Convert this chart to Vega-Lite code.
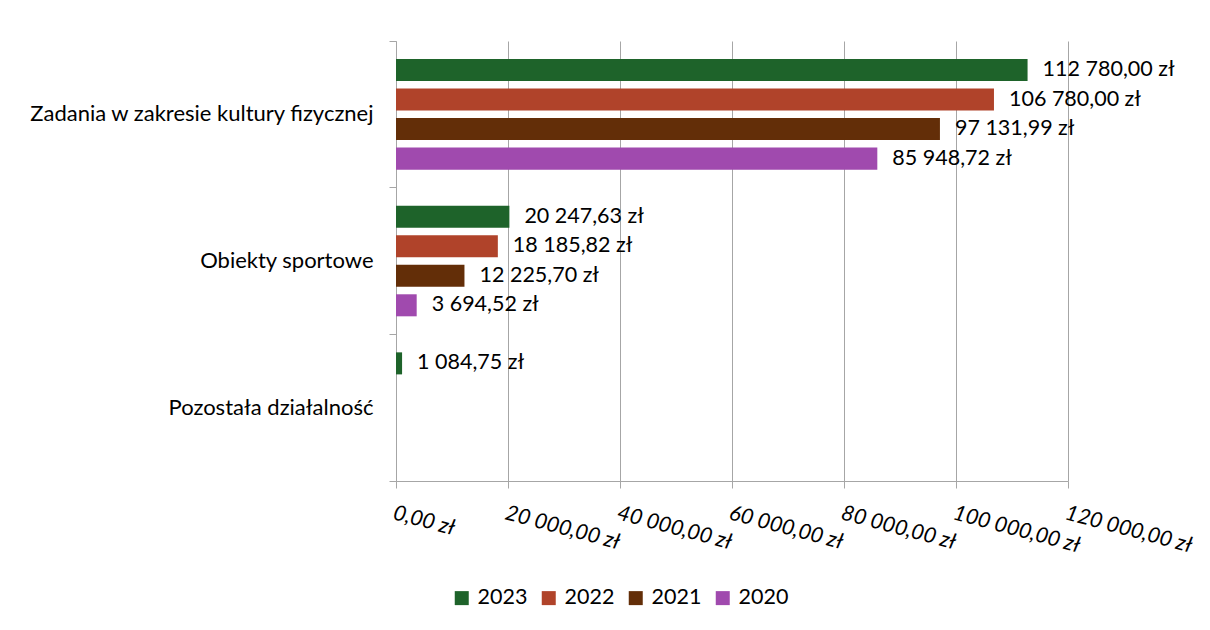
{
  "$schema": "https://vega.github.io/schema/vega-lite/v6.json",
  "width": 672,
  "height": 440,
  "autosize": {"type": "none"},
  "padding": {"left": 396, "top": 41, "right": 142, "bottom": 149},
  "background": "white",
  "config": {
    "locale": {"number": {"decimal": ",", "thousands": " ", "grouping": [3], "currency": ["", " zł"]}},
    "font": "Lato",
    "view": {"stroke": null}
  },
  "data": {
    "values": [
      {"kategoria": "Zadania w zakresie kultury fizycznej", "rok": "2023", "wartosc": 112780.00},
      {"kategoria": "Zadania w zakresie kultury fizycznej", "rok": "2022", "wartosc": 106780.00},
      {"kategoria": "Zadania w zakresie kultury fizycznej", "rok": "2021", "wartosc": 97131.99},
      {"kategoria": "Zadania w zakresie kultury fizycznej", "rok": "2020", "wartosc": 85948.72},
      {"kategoria": "Obiekty sportowe", "rok": "2023", "wartosc": 20247.63},
      {"kategoria": "Obiekty sportowe", "rok": "2022", "wartosc": 18185.82},
      {"kategoria": "Obiekty sportowe", "rok": "2021", "wartosc": 12225.70},
      {"kategoria": "Obiekty sportowe", "rok": "2020", "wartosc": 3694.52},
      {"kategoria": "Pozostała działalność", "rok": "2023", "wartosc": 1084.75}
    ]
  },
  "encoding": {
    "y": {
      "field": "kategoria",
      "type": "nominal",
      "sort": ["Zadania w zakresie kultury fizycznej", "Obiekty sportowe", "Pozostała działalność"],
      "scale": {"paddingInner": 0, "paddingOuter": 0},
      "axis": {
        "title": null,
        "bandPosition": 1,
        "tickExtra": true,
        "tickSize": 7,
        "tickColor": "#a6a6a6",
        "domainColor": "#a6a6a6",
        "labelFontSize": 22,
        "labelPadding": 16,
        "labelColor": "black",
        "labelLimit": 0
      }
    },
    "yOffset": {
      "field": "rok",
      "type": "nominal",
      "sort": ["2023", "2022", "2021", "2020"],
      "scale": {"domain": ["2023", "2022", "2021", "2020"], "paddingInner": 0.254, "paddingOuter": 0.61}
    },
    "x": {
      "field": "wartosc",
      "type": "quantitative",
      "scale": {"domain": [0, 120000], "nice": false},
      "axis": {
        "title": null,
        "format": "$,.2f",
        "values": [0, 20000, 40000, 60000, 80000, 100000, 120000],
        "grid": true,
        "gridColor": "#a6a6a6",
        "domainColor": "#a6a6a6",
        "tickColor": "#a6a6a6",
        "tickSize": 7,
        "labelAngle": 15,
        "labelAlign": "left",
        "labelBaseline": "top",
        "labelFontStyle": "italic",
        "labelFontSize": 21.5,
        "labelPadding": 14,
        "labelColor": "black",
        "labelFlush": false,
        "labelOverlap": false,
        "labelBound": false
      }
    }
  },
  "layer": [
    {
      "mark": {"type": "bar"},
      "encoding": {
        "color": {
          "field": "rok",
          "type": "nominal",
          "scale": {"domain": ["2023", "2022", "2021", "2020"], "range": ["#1e632a", "#b0432a", "#632e08", "#a04aae"]},
          "legend": {
            "title": null,
            "orient": "none",
            "direction": "horizontal",
            "legendX": 55,
            "legendY": 546,
            "symbolType": "square",
            "symbolSize": 196,
            "symbolStrokeWidth": 0,
            "symbolOpacity": 1,
            "labelFontSize": 21.5,
            "labelColor": "black",
            "labelOffset": 5,
            "columnPadding": 10
          }
        }
      }
    },
    {
      "mark": {"type": "text", "align": "left", "baseline": "middle", "dx": 15, "fontSize": 21.5, "color": "black"},
      "encoding": {
        "text": {"field": "wartosc", "type": "quantitative", "format": "$,.2f"}
      }
    }
  ]
}
